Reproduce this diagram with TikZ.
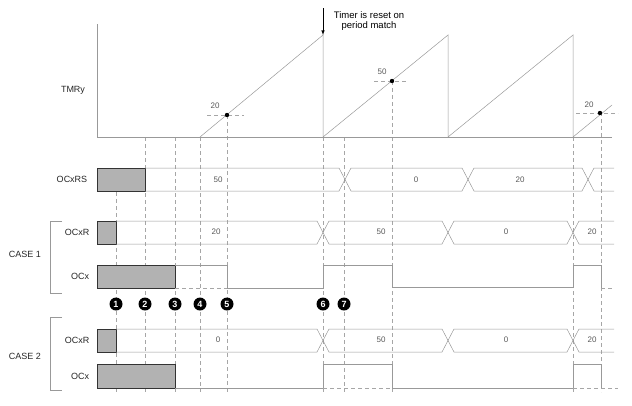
\documentclass[tikz,border=0pt]{standalone}
\usepackage{fontspec}
\setmainfont{Liberation Sans}
\begin{document}
\begin{tikzpicture}[x=1pt,y=-1pt,
  ln/.style={gray!80,line width=0.5pt},
  dsh/.style={gray!70,line width=0.5pt,dash pattern=on 4pt off 3pt},
  grey/.style={fill=gray!60,draw=gray!40!black,line width=0.6pt},
  lbl/.style={font=\fontsize{9}{10}\selectfont,text=black!85},
  val/.style={font=\fontsize{8}{9}\selectfont,text=gray!70!black},
  num/.style={circle,fill=black,inner sep=0pt,minimum size=13pt,text=white,font=\fontsize{9}{9}\bfseries\selectfont}]
\useasboundingbox (0,0) rectangle (632,405);
% dashed verticals
\foreach \x/\y in {116/192,145/137,175/137,200/137,227/115,323/137,344/137,392/81,573/137,601/112}
  \draw[dsh] (\x,\y) -- (\x,392);
% TMRy
\draw[ln] (97,24) -- (97,137) -- (612,137);
\draw[ln] (200,137) -- (323,35) -- (323,137) -- (448,35) -- (448,137) -- (573,35) -- (573,137) -- (612,105);
\draw[dsh] (207,115) -- (244,115);
\draw[dsh] (374,81) -- (406,81);
\draw[dsh] (576,113) -- (618,113);
\fill (227,115) circle (2.2pt);
\fill (392,81) circle (2.2pt);
\fill (600,113) circle (2.2pt);
\node[val] (v20a) at (215,106) {20};
\node[val] (v50a) at (382,72) {50};
\node[val] (v20b) at (589,105) {20};
\node[lbl] (tmry) at (73,90) {TMRy};
\coordinate (arrtop) at (323,8);
\coordinate (arrbot) at (323,35);
\draw[line width=0.6pt,-latex,black] (arrtop) -- (arrbot);
\node[font=\fontsize{9.5}{10}\selectfont,align=center,inner sep=0pt] (reset) at (369,21) {Timer is reset on\\period match};
% OCxRS
\node[lbl] (ocxrs) at (72,179) {OCxRS};
\draw[grey] (97,168) rectangle (145,191);
\draw[ln] (145,168) -- (339,168) -- (351,191) -- (462,191) -- (474,168) -- (582,168) -- (594,191) -- (614,191);
\draw[ln] (145,191) -- (339,191) -- (351,168) -- (462,168) -- (474,191) -- (582,191) -- (594,168) -- (614,168);
\node[val] (rs50) at (218,180) {50};
\node[val] (rs0) at (416,180) {0};
\node[val] (rs20) at (520,180) {20};
% bus for OCxR
\foreach \T/\B in {221/244,329/352}{
  \draw[grey] (97,\T) rectangle (116,\B);
  \draw[ln] (116,\T) -- (317,\T) -- (329,\B) -- (442,\B) -- (454,\T) -- (567,\T) -- (579,\B) -- (614,\B);
  \draw[ln] (116,\B) -- (317,\B) -- (329,\T) -- (442,\T) -- (454,\B) -- (567,\B) -- (579,\T) -- (614,\T);
}
\node[lbl] (ocxr1) at (77,232) {OCxR};
\node[val] (r1a) at (216,232) {20};
\node[val] (r1b) at (381,232) {50};
\node[val] (r1c) at (506,232) {0};
\node[val] (r1d) at (592,232) {20};
\node[lbl] (ocxr2) at (77,340) {OCxR};
\node[val] (r2a) at (218,340) {0};
\node[val] (r2b) at (381,340) {50};
\node[val] (r2c) at (506,340) {0};
\node[val] (r2d) at (592,340) {20};
% OCx case 1
\node[lbl] (ocx1) at (80,276) {OCx};
\draw[grey] (97,265) rectangle (175,288);
\draw[ln] (175,265) -- (227,265) -- (227,288) -- (323,288) -- (323,265) -- (392,265) -- (392,287) -- (573,287) -- (573,265) -- (601,265) -- (601,288);
\draw[dsh] (175,288) -- (227,288);
\draw[dsh] (601,288) -- (614,288);
% OCx case 2
\node[lbl] (ocx2) at (80,376) {OCx};
\draw[grey] (97,364) rectangle (175,388);
\draw[ln] (175,388) -- (323,388) -- (323,364) -- (392,364) -- (392,388) -- (573,388) -- (573,364) -- (601,364) -- (601,388);
\draw[dsh] (323,388) -- (392,388);
\draw[dsh] (573,388) -- (618,388);
% brackets
\draw[ln] (62,221) -- (50,221) -- (50,293) -- (62,293);
\draw[ln] (62,317) -- (50,317) -- (50,390) -- (62,390);
\node[lbl] (case1) at (25,254) {CASE 1};
\node[lbl] (case2) at (25,356) {CASE 2};
% numbers
\foreach \x/\n in {116/1,145/2,175/3,200/4,227/5,323/6,344/7}
  \node[num] (n\n) at (\x,304) {\n};
\end{tikzpicture}
\end{document}
